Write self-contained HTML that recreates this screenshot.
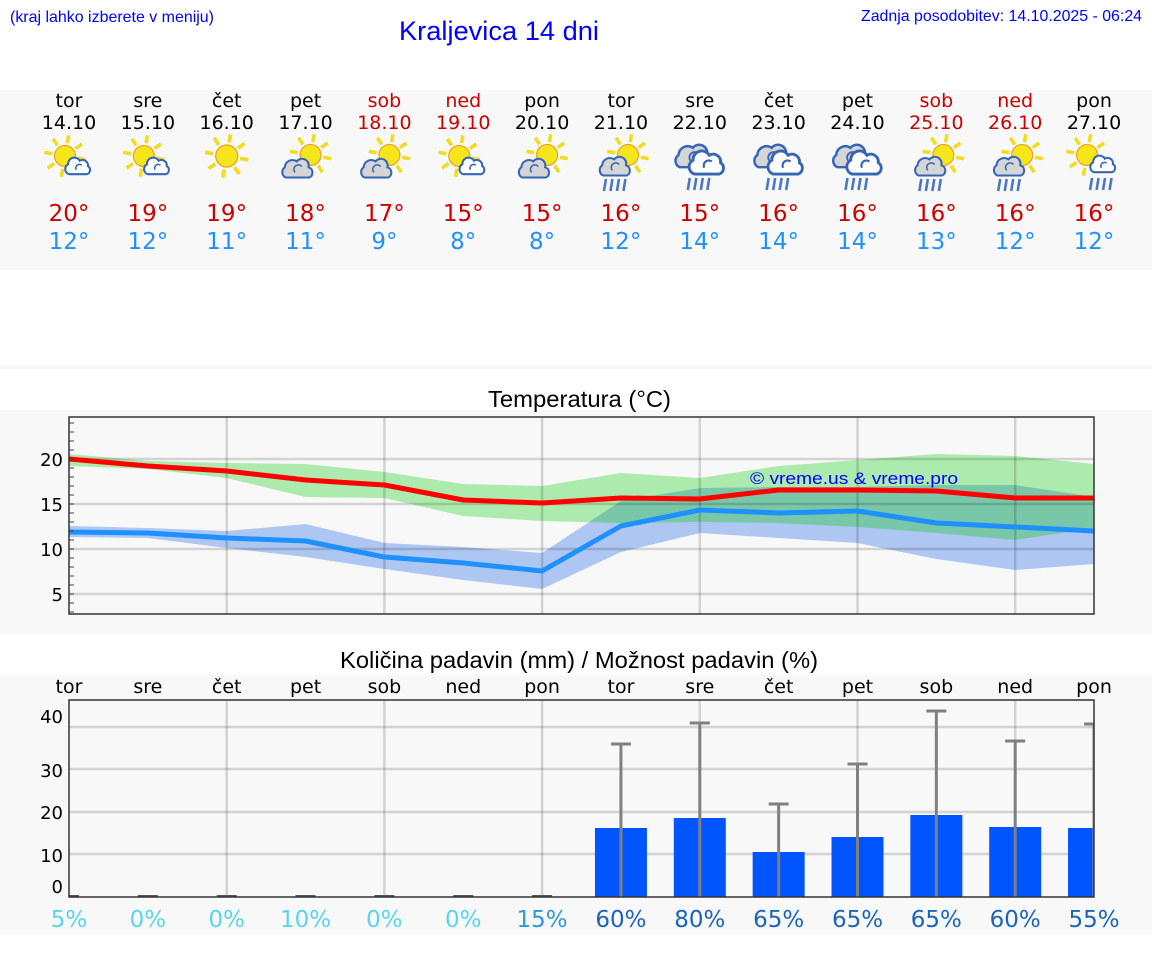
<!DOCTYPE html>
<html>
<head>
<meta charset="utf-8">
<style>
  html,body{margin:0;padding:0;background:#fff;}
  svg{display:block;}
  .dj{font-family:"DejaVu Sans","Liberation Sans",sans-serif;}
  .lb{font-family:"Liberation Sans",Arial,sans-serif;}
</style>
</head>
<body>
<svg width="1152" height="975" viewBox="0 0 1152 975" xmlns="http://www.w3.org/2000/svg">
  <defs>
    <g id="sun">
      <g stroke="#f2dc22" stroke-width="3.6" stroke-linecap="butt">
        <line x1="12.8" y1="2.3" x2="20.7" y2="3.6"/>
        <line x1="7.5" y1="10.6" x2="12" y2="17.2"/>
        <line x1="-2.3" y1="12.8" x2="-3.6" y2="20.7"/>
        <line x1="-10.6" y1="7.5" x2="-17.2" y2="12"/>
        <line x1="-12.8" y1="-2.3" x2="-20.7" y2="-3.6"/>
        <line x1="-7.5" y1="-10.6" x2="-12" y2="-17.2"/>
        <line x1="2.3" y1="-12.8" x2="3.6" y2="-20.7"/>
        <line x1="10.6" y1="-7.5" x2="17.2" y2="-12"/>
      </g>
      <circle r="10.5" fill="#f5e51b" stroke="#eba02a" stroke-width="1.2"/>
    </g>
    <g id="wc">
      <path d="M-10,8 A6,6 0 0 1 -11,-3 A7,7 0 0 1 2,-7 A6,6 0 0 1 11,-1 A5,5 0 0 1 10,8 Z" fill="#fff" stroke="#3565b5" stroke-width="2.3"/>
      <path d="M-2,3 A4,4 0 0 1 4,-2" fill="none" stroke="#3565b5" stroke-width="1.8"/>
    </g>
    <g id="gc">
      <path d="M-14,10 A7,7 0 0 1 -15,-2 A9,9 0 0 1 -1,-9 A8,8 0 0 1 13,-2 A6.5,6.5 0 0 1 14,10 Z" fill="#d5d5d5" stroke="#3565b5" stroke-width="2.4"/>
      <path d="M-3,4 A5,5 0 0 1 5,-3" fill="none" stroke="#3565b5" stroke-width="1.8"/>
    </g>
    <g id="rain" stroke="#4a78c2" stroke-width="2.6">
      <line x1="-8" y1="0" x2="-10" y2="12"/>
      <line x1="-1.5" y1="0" x2="-3.5" y2="12"/>
      <line x1="5" y1="0" x2="3" y2="12"/>
      <line x1="11.5" y1="0" x2="9.5" y2="12"/>
    </g>
    <g id="iA">
      <use href="#sun" x="-4" y="156"/>
      <g transform="translate(9,167) scale(0.9)"><use href="#wc"/></g>
    </g>
    <g id="iS">
      <g transform="translate(0,156) scale(1.05)"><use href="#sun"/></g>
    </g>
    <g id="iB">
      <use href="#sun" x="5" y="155"/>
      <g transform="translate(-8,169) scale(0.85)"><use href="#gc"/></g>
    </g>
    <g id="iC">
      <use href="#sun" x="7" y="155"/>
      <g transform="translate(-6,167) scale(0.85)"><use href="#gc"/></g>
      <use href="#rain" x="-7" y="179"/>
    </g>
    <g id="iR">
      <g transform="translate(-6,157) scale(1.02)"><use href="#gc"/></g>
      <g transform="translate(7,164) scale(1.25)"><use href="#wc"/></g>
      <use href="#rain" x="-2" y="178"/>
    </g>
    <g id="iD">
      <use href="#sun" x="-7" y="155"/>
      <g transform="translate(9,165) scale(0.9)"><use href="#wc"/></g>
      <use href="#rain" x="6" y="178"/>
    </g>
    <clipPath id="cpT"><rect x="69" y="417" width="1025" height="197"/></clipPath>
    <clipPath id="cpP"><rect x="69" y="700" width="1025" height="197"/></clipPath>
  </defs>

  <rect x="0" y="0" width="1152" height="975" fill="#fff"/>
  <rect x="0" y="90" width="1152" height="180" fill="#f8f8f8"/>
  <rect x="0" y="365" width="1152" height="4" fill="#f8f8f8"/>
  <rect x="0" y="410" width="1152" height="224" fill="#f8f8f8"/>
  <rect x="0" y="675" width="1152" height="260" fill="#f8f8f8"/>

  <text class="lb" x="10" y="22" font-size="16" fill="#0000ff" textLength="204" lengthAdjust="spacingAndGlyphs">(kraj lahko izberete v meniju)</text>
  <text class="lb" x="399" y="40" font-size="27" fill="#0000ff" textLength="200" lengthAdjust="spacingAndGlyphs">Kraljevica 14 dni</text>
  <text class="lb" x="861" y="21" font-size="16" fill="#0000ff" textLength="281" lengthAdjust="spacingAndGlyphs">Zadnja posodobitev: 14.10.2025 - 06:24</text>

  <g class="dj" font-size="19" text-anchor="middle">
    <text x="69" y="107" fill="#000">tor</text>
    <text x="147.85" y="107" fill="#000">sre</text>
    <text x="226.7" y="107" fill="#000">čet</text>
    <text x="305.55" y="107" fill="#000">pet</text>
    <text x="384.4" y="107" fill="#cc0000">sob</text>
    <text x="463.25" y="107" fill="#cc0000">ned</text>
    <text x="542.1" y="107" fill="#000">pon</text>
    <text x="620.95" y="107" fill="#000">tor</text>
    <text x="699.8" y="107" fill="#000">sre</text>
    <text x="778.65" y="107" fill="#000">čet</text>
    <text x="857.5" y="107" fill="#000">pet</text>
    <text x="936.35" y="107" fill="#cc0000">sob</text>
    <text x="1015.2" y="107" fill="#cc0000">ned</text>
    <text x="1094.05" y="107" fill="#000">pon</text>

    <text x="69" y="129" fill="#000">14.10</text>
    <text x="147.85" y="129" fill="#000">15.10</text>
    <text x="226.7" y="129" fill="#000">16.10</text>
    <text x="305.55" y="129" fill="#000">17.10</text>
    <text x="384.4" y="129" fill="#cc0000">18.10</text>
    <text x="463.25" y="129" fill="#cc0000">19.10</text>
    <text x="542.1" y="129" fill="#000">20.10</text>
    <text x="620.95" y="129" fill="#000">21.10</text>
    <text x="699.8" y="129" fill="#000">22.10</text>
    <text x="778.65" y="129" fill="#000">23.10</text>
    <text x="857.5" y="129" fill="#000">24.10</text>
    <text x="936.35" y="129" fill="#cc0000">25.10</text>
    <text x="1015.2" y="129" fill="#cc0000">26.10</text>
    <text x="1094.05" y="129" fill="#000">27.10</text>
  </g>

  <use href="#iA" x="69" y="0"/>
  <use href="#iA" x="147.85" y="0"/>
  <use href="#iS" x="226.7" y="0"/>
  <use href="#iB" x="305.55" y="0"/>
  <use href="#iB" x="384.4" y="0"/>
  <use href="#iA" x="463.25" y="0"/>
  <use href="#iB" x="542.1" y="0"/>
  <use href="#iC" x="620.95" y="0"/>
  <use href="#iR" x="699.8" y="0"/>
  <use href="#iR" x="778.65" y="0"/>
  <use href="#iR" x="857.5" y="0"/>
  <use href="#iC" x="936.35" y="0"/>
  <use href="#iC" x="1015.2" y="0"/>
  <use href="#iD" x="1094.05" y="0"/>

  <g class="dj" font-size="23" text-anchor="middle" fill="#cc0000">
    <text x="69" y="221">20°</text>
    <text x="147.85" y="221">19°</text>
    <text x="226.7" y="221">19°</text>
    <text x="305.55" y="221">18°</text>
    <text x="384.4" y="221">17°</text>
    <text x="463.25" y="221">15°</text>
    <text x="542.1" y="221">15°</text>
    <text x="620.95" y="221">16°</text>
    <text x="699.8" y="221">15°</text>
    <text x="778.65" y="221">16°</text>
    <text x="857.5" y="221">16°</text>
    <text x="936.35" y="221">16°</text>
    <text x="1015.2" y="221">16°</text>
    <text x="1094.05" y="221">16°</text>
  </g>
  <g class="dj" font-size="23" text-anchor="middle" fill="#1e90ff">
    <text x="69" y="249">12°</text>
    <text x="147.85" y="249">12°</text>
    <text x="226.7" y="249">11°</text>
    <text x="305.55" y="249">11°</text>
    <text x="384.4" y="249">9°</text>
    <text x="463.25" y="249">8°</text>
    <text x="542.1" y="249">8°</text>
    <text x="620.95" y="249">12°</text>
    <text x="699.8" y="249">14°</text>
    <text x="778.65" y="249">14°</text>
    <text x="857.5" y="249">14°</text>
    <text x="936.35" y="249">13°</text>
    <text x="1015.2" y="249">12°</text>
    <text x="1094.05" y="249">12°</text>
  </g>

  <text class="lb" x="488" y="407" font-size="23" fill="#000" textLength="183" lengthAdjust="spacingAndGlyphs">Temperatura (°C)</text>
  <g clip-path="url(#cpT)">
    <polygon fill="#aec6f2" points="69,526 147.85,528 226.7,531 305.55,524 384.4,543 463.25,547 542.1,553 620.95,501 699.8,488 778.65,487 857.5,487 936.35,485 1015.2,485 1094.05,497 1094.05,564 1015.2,570 936.35,559 857.5,543 778.65,538 699.8,533 620.95,552 542.1,589 463.25,580 384.4,569 305.55,557 226.7,548 147.85,538 69,537"/>
    <polygon fill="rgba(0,201,0,0.3)" points="69,454 147.85,461 226.7,463 305.55,464 384.4,472 463.25,484 542.1,486 620.95,473 699.8,478 778.65,466 857.5,460 936.35,454 1015.2,456 1094.05,464 1094.05,528 1015.2,540 936.35,533 857.5,527 778.65,523 699.8,522 620.95,523 542.1,521 463.25,516 384.4,498 305.55,497 226.7,478 147.85,469 69,466"/>
    <g stroke="rgba(0,0,0,0.15)" stroke-width="2.5">
      <line x1="69" y1="459" x2="1094" y2="459"/>
      <line x1="69" y1="504" x2="1094" y2="504"/>
      <line x1="69" y1="549" x2="1094" y2="549"/>
      <line x1="69" y1="594" x2="1094" y2="594"/>
      <line x1="226.7" y1="417" x2="226.7" y2="614"/>
      <line x1="384.4" y1="417" x2="384.4" y2="614"/>
      <line x1="542.1" y1="417" x2="542.1" y2="614"/>
      <line x1="699.8" y1="417" x2="699.8" y2="614"/>
      <line x1="857.5" y1="417" x2="857.5" y2="614"/>
      <line x1="1015.2" y1="417" x2="1015.2" y2="614"/>
    </g>
    <polyline fill="none" stroke="#ff0000" stroke-width="5" stroke-linejoin="round" points="69,459 147.85,466 226.7,471 305.55,480 384.4,485 463.25,500 542.1,503 620.95,498 699.8,499 778.65,490 857.5,490 936.35,491 1015.2,498 1094.05,498"/>
    <polyline fill="none" stroke="#1e90ff" stroke-width="5" stroke-linejoin="round" points="69,532 147.85,533 226.7,538 305.55,541 384.4,557 463.25,563 542.1,571 620.95,526 699.8,510 778.65,513 857.5,511 936.35,523 1015.2,527 1094.05,531"/>
  </g>
  <text class="lb" x="750" y="484" font-size="17" fill="#0000ff" textLength="208" lengthAdjust="spacingAndGlyphs">© vreme.us &amp; vreme.pro</text>
  <g stroke="#444" stroke-width="1">
    <line x1="69" y1="423" x2="74" y2="423"/>
    <line x1="69" y1="432" x2="74" y2="432"/>
    <line x1="69" y1="441" x2="74" y2="441"/>
    <line x1="69" y1="450" x2="74" y2="450"/>
    <line x1="69" y1="459" x2="74" y2="459"/>
    <line x1="69" y1="468" x2="74" y2="468"/>
    <line x1="69" y1="477" x2="74" y2="477"/>
    <line x1="69" y1="486" x2="74" y2="486"/>
    <line x1="69" y1="495" x2="74" y2="495"/>
    <line x1="69" y1="504" x2="74" y2="504"/>
    <line x1="69" y1="513" x2="74" y2="513"/>
    <line x1="69" y1="522" x2="74" y2="522"/>
    <line x1="69" y1="531" x2="74" y2="531"/>
    <line x1="69" y1="540" x2="74" y2="540"/>
    <line x1="69" y1="549" x2="74" y2="549"/>
    <line x1="69" y1="558" x2="74" y2="558"/>
    <line x1="69" y1="567" x2="74" y2="567"/>
    <line x1="69" y1="576" x2="74" y2="576"/>
    <line x1="69" y1="585" x2="74" y2="585"/>
    <line x1="69" y1="594" x2="74" y2="594"/>
    <line x1="69" y1="603" x2="74" y2="603"/>
    <line x1="69" y1="612" x2="74" y2="612"/>
  </g>
  <rect x="69" y="417" width="1025" height="197" fill="none" stroke="#333" stroke-width="1.5"/>
  <g class="dj" font-size="18" text-anchor="end" fill="#000">
    <text x="63" y="466">20</text>
    <text x="63" y="511">15</text>
    <text x="63" y="556">10</text>
    <text x="63" y="601">5</text>
  </g>

  <text class="lb" x="340" y="668" font-size="23" fill="#000" textLength="478" lengthAdjust="spacingAndGlyphs">Količina padavin (mm) / Možnost padavin (%)</text>
  <g class="dj" font-size="19" text-anchor="middle" fill="#000">
    <text x="69" y="693">tor</text>
    <text x="147.85" y="693">sre</text>
    <text x="226.7" y="693">čet</text>
    <text x="305.55" y="693">pet</text>
    <text x="384.4" y="693">sob</text>
    <text x="463.25" y="693">ned</text>
    <text x="542.1" y="693">pon</text>
    <text x="620.95" y="693">tor</text>
    <text x="699.8" y="693">sre</text>
    <text x="778.65" y="693">čet</text>
    <text x="857.5" y="693">pet</text>
    <text x="936.35" y="693">sob</text>
    <text x="1015.2" y="693">ned</text>
    <text x="1094.05" y="693">pon</text>
  </g>
  <g clip-path="url(#cpP)">
    <g stroke="rgba(0,0,0,0.15)" stroke-width="2.5">
      <line x1="69" y1="727" x2="1094" y2="727"/>
      <line x1="69" y1="769" x2="1094" y2="769"/>
      <line x1="69" y1="812" x2="1094" y2="812"/>
      <line x1="69" y1="854" x2="1094" y2="854"/>
      <line x1="226.7" y1="700" x2="226.7" y2="897"/>
      <line x1="384.4" y1="700" x2="384.4" y2="897"/>
      <line x1="542.1" y1="700" x2="542.1" y2="897"/>
      <line x1="699.8" y1="700" x2="699.8" y2="897"/>
      <line x1="857.5" y1="700" x2="857.5" y2="897"/>
      <line x1="1015.2" y1="700" x2="1015.2" y2="897"/>
    </g>
    <g fill="#0055ff">
      <rect x="594.95" y="828" width="52" height="69"/>
      <rect x="673.8" y="818" width="52" height="79"/>
      <rect x="752.65" y="852" width="52" height="45"/>
      <rect x="831.5" y="837" width="52" height="60"/>
      <rect x="910.35" y="815" width="52" height="82"/>
      <rect x="989.2" y="827" width="52" height="70"/>
      <rect x="1068.05" y="828" width="52" height="69"/>
    </g>
    <g stroke="#808080" stroke-width="3">
      <line x1="620.95" y1="744" x2="620.95" y2="897"/><line x1="610.95" y1="744" x2="630.95" y2="744"/>
      <line x1="699.8" y1="723" x2="699.8" y2="897"/><line x1="689.8" y1="723" x2="709.8" y2="723"/>
      <line x1="778.65" y1="804" x2="778.65" y2="897"/><line x1="768.65" y1="804" x2="788.65" y2="804"/>
      <line x1="857.5" y1="764" x2="857.5" y2="897"/><line x1="847.5" y1="764" x2="867.5" y2="764"/>
      <line x1="936.35" y1="711" x2="936.35" y2="897"/><line x1="926.35" y1="711" x2="946.35" y2="711"/>
      <line x1="1015.2" y1="741" x2="1015.2" y2="897"/><line x1="1005.2" y1="741" x2="1025.2" y2="741"/>
      <line x1="1094.05" y1="724" x2="1094.05" y2="897"/><line x1="1084.05" y1="724" x2="1104.05" y2="724"/>
    </g>
    <g stroke="#555" stroke-width="2">
      <line x1="59" y1="896" x2="79" y2="896"/>
      <line x1="137.85" y1="896" x2="157.85" y2="896"/>
      <line x1="216.7" y1="896" x2="236.7" y2="896"/>
      <line x1="295.55" y1="896" x2="315.55" y2="896"/>
      <line x1="374.4" y1="896" x2="394.4" y2="896"/>
      <line x1="453.25" y1="896" x2="473.25" y2="896"/>
      <line x1="532.1" y1="896" x2="552.1" y2="896"/>
    </g>
  </g>
  <rect x="69" y="700" width="1025" height="197" fill="none" stroke="#333" stroke-width="1.5"/>
  <g class="dj" font-size="18" text-anchor="end" fill="#000">
    <text x="63" y="723">40</text>
    <text x="63" y="777">30</text>
    <text x="63" y="819">20</text>
    <text x="63" y="862">10</text>
    <text x="63" y="893">0</text>
  </g>
  <g class="dj" font-size="23" text-anchor="middle">
    <text x="69" y="927" fill="#5ad5ea">5%</text>
    <text x="147.85" y="927" fill="#5ad5ea">0%</text>
    <text x="226.7" y="927" fill="#5ad5ea">0%</text>
    <text x="305.55" y="927" fill="#5ad5ea">10%</text>
    <text x="384.4" y="927" fill="#5ad5ea">0%</text>
    <text x="463.25" y="927" fill="#5ad5ea">0%</text>
    <text x="542.1" y="927" fill="#2f98d6">15%</text>
    <text x="620.95" y="927" fill="#1a64bb">60%</text>
    <text x="699.8" y="927" fill="#1a64bb">80%</text>
    <text x="778.65" y="927" fill="#1a64bb">65%</text>
    <text x="857.5" y="927" fill="#1a64bb">65%</text>
    <text x="936.35" y="927" fill="#1a64bb">65%</text>
    <text x="1015.2" y="927" fill="#1a64bb">60%</text>
    <text x="1094.05" y="927" fill="#1a64bb">55%</text>
  </g>
</svg>
</body>
</html>
